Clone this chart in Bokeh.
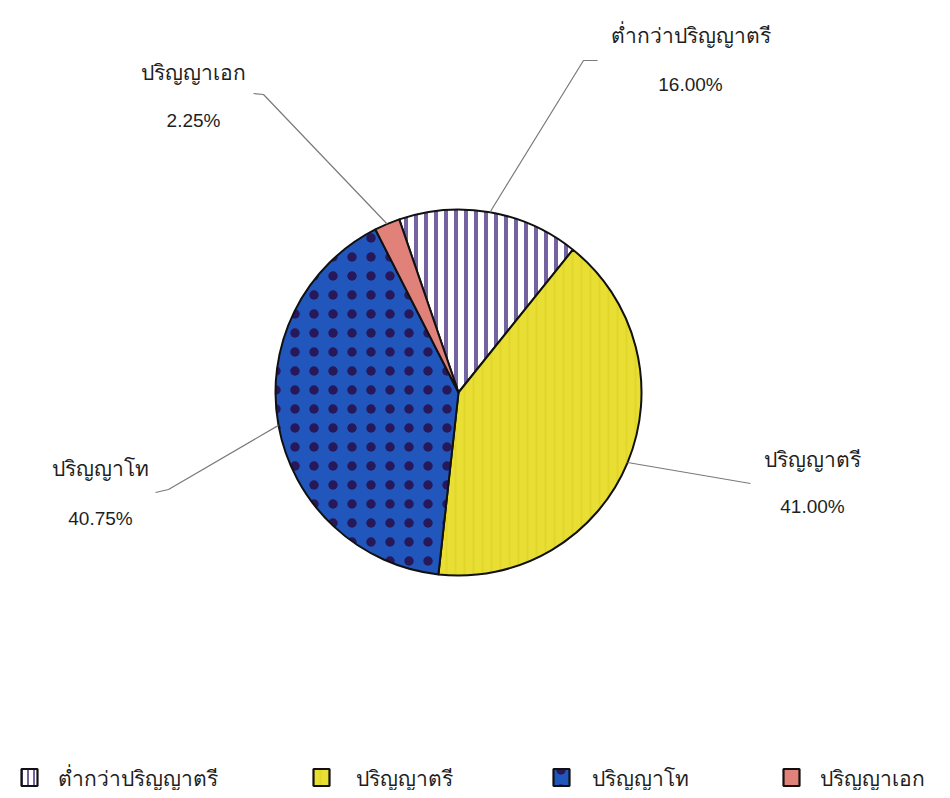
import math
from bokeh.plotting import figure
from bokeh.models import Range1d
from bokeh.core.properties import value
from bokeh.embed import file_html
from bokeh.resources import INLINE

# ---- data ----
categories = ["ต่ำกว่าปริญญาตรี", "ปริญญาตรี", "ปริญญาโท", "ปริญญาเอก"]
percents = [16.00, 41.00, 40.75, 2.25]
pct_labels = ["16.00%", "41.00%", "40.75%", "2.25%"]

# ---- styles (layout, not data) ----
fills = ["#ffffff", "#e9de33", "#2157bd", "#e0827a"]
hatches = ["vertical_line", "vertical_line", "dot", " "]
hatch_colors = ["#7463a0", "#d9cd22", "#27185a", "#e0827a"]
hatch_scales = [10, 9, 19, 12]
hatch_weights = [4, 2, 1, 1]
hatch_alphas = [1.0, 0.45, 1.0, 0.0]

W, H = 934, 790
CX, CY, R = 458, 392, 183
START_CW = -18.9  # clockwise degrees from 12 o'clock

p = figure(width=W, height=H, output_backend="svg", toolbar_location=None,
           x_axis_location=None, y_axis_location=None, min_border=0,
           x_range=Range1d(0, W), y_range=Range1d(-H, 0))
p.grid.visible = False
p.outline_line_color = None
p.background_fill_color = "#ffffff"
p.border_fill_color = "#ffffff"

def Y(y):
    return -y

# wedges
total = sum(percents)
starts, ends, mids = [], [], []
acc = START_CW
for v in percents:
    a0 = acc
    a1 = acc + v / total * 360.0
    starts.append(math.radians(90 - a0))
    ends.append(math.radians(90 - a1))
    mids.append((a0 + a1) / 2)
    acc = a1

for i in range(len(categories)):
    p.wedge(x=CX, y=Y(CY), radius=R, start_angle=starts[i], end_angle=ends[i],
            direction="clock", fill_color=fills[i], line_color="#111111", line_width=2,
            hatch_pattern=hatches[i], hatch_color=hatch_colors[i],
            hatch_scale=hatch_scales[i], hatch_weight=hatch_weights[i],
            hatch_alpha=hatch_alphas[i])

# leader lines and labels
elbows = [[(583, 60), (597, 60)],
          [(750, 483)],
          [(168, 489), (155, 492)],
          [(263, 94), (253, 93)]]
name_pos = [(690, 34), (812, 458), (100, 467), (193, 71)]
pct_pos = [(690, 84), (812, 506), (100, 518), (193, 120)]

for i in range(len(categories)):
    th = math.radians(mids[i])
    sx = CX + R * math.sin(th)
    sy = CY - R * math.cos(th)
    xs = [sx] + [e[0] for e in elbows[i]]
    ys = [Y(sy)] + [Y(e[1]) for e in elbows[i]]
    p.line(xs, ys, line_color="#7a7a7a", line_width=1.2)
    p.text(x=[name_pos[i][0]], y=[Y(name_pos[i][1])], text=[categories[i]],
           text_align="center", text_baseline="middle", text_font_size="21px",
           text_font=value("Noto Sans"), text_color="#1e1e1e")
    p.text(x=[pct_pos[i][0]], y=[Y(pct_pos[i][1])], text=[pct_labels[i]],
           text_align="center", text_baseline="middle", text_font_size="19px",
           text_font=value("Liberation Sans"), text_color="#1e1e1e")

# legend (manual)
leg_sq_x = [29, 321, 561, 791]
leg_txt_x = [57, 355, 591, 819]
LEG_Y = 777
for i in range(len(categories)):
    p.rect(x=[leg_sq_x[i]], y=[Y(LEG_Y)], width=16, height=17,
           fill_color=fills[i], line_color="#111111", line_width=2.2,
           hatch_pattern=hatches[i], hatch_color=hatch_colors[i],
           hatch_scale=6 if i == 0 else hatch_scales[i],
           hatch_weight=2 if i == 0 else hatch_weights[i],
           hatch_alpha=hatch_alphas[i])
    p.text(x=[leg_txt_x[i]], y=[Y(LEG_Y)], text=[categories[i]],
           text_align="left", text_baseline="middle", text_font_size="21px",
           text_font=value("Noto Sans"), text_color="#1e1e1e")

open("out.html", "w").write(file_html(p, INLINE))
